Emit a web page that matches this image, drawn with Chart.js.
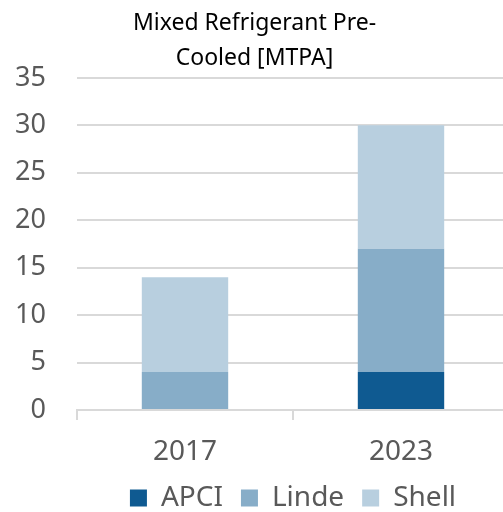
<!DOCTYPE html>
<html>
<head>
<meta charset="utf-8">
<script src="https://cdn.jsdelivr.net/npm/chart.js@4.4.0/dist/chart.umd.min.js"></script>
<style>
  html, body { margin: 0; padding: 0; background: #fff; overflow: hidden; }
  /* a bit bigger than the window: the plot runs past the right edge in the original */
  #wrap { width: 509px; height: 522px; }
</style>
</head>
<body>
<div id="wrap"><canvas id="myChart"></canvas></div>
<script>
// data
var years = ['2017', '2023'];
var apci = [0, 4];
var linde = [4, 13];
var shell = [10, 13];
var yTicks = [0, 5, 10, 15, 20, 25, 30, 35];

var fontName = '"Noto Sans", sans-serif';
var grey = '#595959';

const ctx = document.getElementById('myChart').getContext('2d');
new Chart(ctx, {
  type: 'bar',
  data: {
    labels: years,
    datasets: [{
      label: 'APCI',
      data: apci,
      backgroundColor: '#0F5A91'
    }, {
      label: 'Linde',
      data: linde,
      backgroundColor: '#87ADC8'
    }, {
      label: 'Shell',
      data: shell,
      backgroundColor: '#B8CFDF'
    }]
  },
  options: {
    responsive: true,
    maintainAspectRatio: false,
    animation: false,
    layout: { padding: { top: 6, right: 0, bottom: 0, left: 0 } },
    datasets: {
      bar: { barPercentage: 0.4, categoryPercentage: 1.0 }
    },
    plugins: {
      title: {
        display: true,
        text: ['Mixed Refrigerant Pre-', 'Cooled [MTPA]'],
        color: '#000',
        font: { family: fontName, size: 23, weight: 'normal', lineHeight: 1.52 },
        padding: { top: 0, bottom: 2 }
      },
      legend: {
        position: 'bottom',
        fullSize: false,
        labels: {
          color: grey,
          font: { family: fontName, size: 28 },
          boxWidth: 17,
          boxHeight: 17,
          padding: 18
        }
      },
      tooltip: { enabled: false }
    },
    scales: {
      x: {
        stacked: true,
        afterFit: function (axis) { axis.height = 56; },
        grid: {
          offset: true,
          drawOnChartArea: false,
          drawTicks: true,
          tickLength: 10,
          color: '#d9d9d9',
          lineWidth: 2
        },
        border: { display: true, color: '#d9d9d9', width: 2 },
        ticks: { color: grey, font: { family: fontName, size: 28, lineHeight: 1 }, padding: 18 }
      },
      y: {
        stacked: true,
        min: 0,
        max: 35,
        afterBuildTicks: function (axis) {
          axis.ticks = yTicks.map(function (v) { return { value: v }; });
        },
        afterFit: function (axis) { axis.width = 77; },
        grid: { color: '#d9d9d9', lineWidth: 2, drawTicks: false },
        border: { display: false },
        ticks: { color: grey, font: { family: fontName, size: 27 }, padding: 31 }
      }
    }
  }
});
</script>
</body>
</html>
